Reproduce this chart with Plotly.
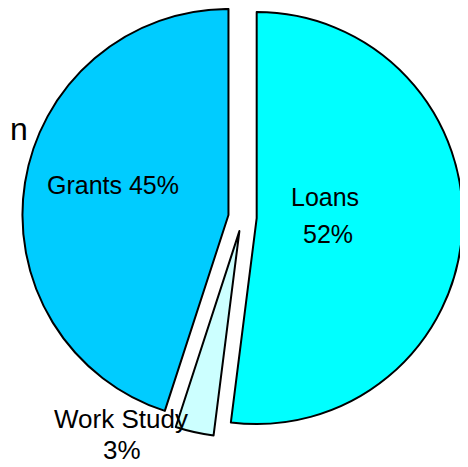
import math
import plotly.graph_objects as go

# Data
labels = ["Loans", "Work Study", "Grants"]
values = [52, 3, 45]
colors = ["#00FFFF", "#CCFFFF", "#00CCFF"]
pull = 0.069  # explode distance as a fraction of the radius

# Canvas (browser body keeps an 8px margin, so the figure fills the rest)
W, H = 460, 459
R = 206.0                 # pie radius, px
CX, CY = 234.5, 209.2     # un-exploded pie centre, px from figure top-left

total = sum(values)
traces = []
start = 0.0
for lab, v, col in zip(labels, values, colors):
    sweep = 360.0 * v / total
    mid = math.radians(start + sweep / 2)
    # each slice is shifted outward along its mid-angle (exploded pie)
    cx = CX + pull * R * math.sin(mid)
    cy = CY - pull * R * math.cos(mid)
    rot = start if start <= 180 else start - 360
    traces.append(
        go.Pie(
            labels=[lab, ""],
            values=[v, total - v],
            sort=False,
            direction="clockwise",
            rotation=rot,
            marker=dict(colors=[col, "rgba(0,0,0,0)"],
                        line=dict(color=["black", "rgba(0,0,0,0)"], width=[2, 0])),
            textinfo="none",
            hoverinfo="label+value",
            showlegend=False,
            domain=dict(
                x=[max(0, (cx - R) / W), min(1, (cx + R) / W)],
                y=[max(0, 1 - (cy + R) / H), min(1, 1 - (cy - R) / H)],
            ),
        )
    )
    start += sweep

fig = go.Figure(traces)

def px(x, y):
    return x / W, 1 - y / H

font = dict(family="Liberation Sans, Arial, sans-serif", size=25, color="black")
label_texts = [
    ("Grants 45%", 104.5, 176.5, 25),
    ("Loans", 317, 188.5, 25),
    ("52%", 319.5, 225.5, 25),
    ("Work Study", 112.5, 411, 26),
    ("3%", 114, 442, 26),
]
annotations = []
for t, x, y, s in label_texts:
    ax, ay = px(x, y)
    annotations.append(dict(text=t, x=ax, y=ay, xref="paper", yref="paper",
                            xanchor="center", yanchor="middle", showarrow=False,
                            font=dict(font, size=s)))
nx, ny = px(0, 121)
annotations.append(dict(text="n", x=nx, y=ny, xref="paper", yref="paper",
                        xanchor="left", yanchor="middle", showarrow=False,
                        font=dict(family="Liberation Sans, Arial, sans-serif", size=32, color="black")))

fig.update_layout(
    width=W, height=H,
    margin=dict(l=0, r=0, t=0, b=0),
    paper_bgcolor="white",
    plot_bgcolor="white",
    annotations=annotations,
)

fig.write_html("out.html")
